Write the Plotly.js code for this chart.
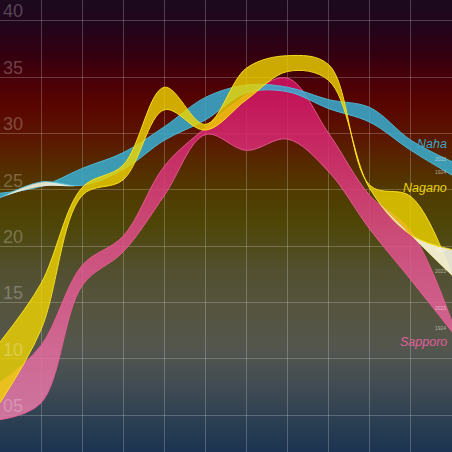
<!DOCTYPE html>
<html>
<head>
<meta charset="utf-8">
<script src="https://cdn.plot.ly/plotly-3.0.1.min.js"></script>
<style>
  html, body { margin: 0; padding: 0; }
  #chart {
    width: 452px; height: 452px;
    background: linear-gradient(to bottom,
      #1c0a1f 0%, #22041a 6%, #330010 12%, #470008 17%, #580400 23%,
      #5b1500 30%, #572600 35%, #513a00 42%, #4e4608 50%, #525030 60%,
      #56543e 68%, #54564e 77%, #424c53 85%, #2c3f52 93%, #1c3452 100%);
  }
</style>
</head>
<body>
<div id="chart"></div>
<script>
// Monthly highest temperatures (deg C)
const months = ['Jan','Feb','Mar','Apr','May','Jun','Jul','Aug','Sep','Oct','Nov','Dec'];
const yearA = '2023';
const yearB = '1924';

const naha2023    = [24.7, 25.3, 26.9, 28.3, 30.6, 33.2, 34.3, 34.1, 33.0, 32.3, 29.4, 27.5];
const naha1924    = [24.3, 25.7, 25.4, 26.8, 29.4, 31.2, 33.6, 33.7, 32.2, 31.0, 28.5, 26.3];
const nagano2023  = [11.5, 16.7, 25.2, 27.2, 34.1, 30.8, 35.8, 36.9, 36.1, 25.4, 24.4, 17.4];
const nagano1924  = [ 6.1, 12.6, 24.5, 25.9, 32.1, 30.3, 33.0, 35.5, 34.7, 25.1, 21.0, 19.7];
const sapporo2023 = [ 7.9, 11.2, 18.3, 20.9, 27.1, 30.5, 33.4, 34.9, 30.0, 24.5, 21.3, 13.3];
const sapporo1924 = [ 4.6,  6.1, 16.5, 19.5, 24.5, 29.9, 28.5, 29.5, 26.6, 21.5, 17.0, 12.4];

const tickValues = [5, 10, 15, 20, 25, 30, 35, 40];
const tickLabels = ['05', '10', '15', '20', '25', '30', '35', '40'];

const cities = [
  { name: 'Sapporo', a: sapporo2023, b: sapporo1924, fill: 'rgba(222,40,120,0.82)', edge: 'rgba(235,90,150,0.9)',
    gradient: { type: 'vertical', start: 5, stop: 35,
      colorscale: [[0, 'rgba(232,125,170,0.85)'], [0.5, 'rgba(225,80,140,0.85)'], [1, 'rgba(212,18,100,0.85)']] },
    label: 11.5, labelColor: '#e0609c', shiftA: 14, shiftB: 4 },
  { name: 'Naha', a: naha2023, b: naha1924, fill: 'rgba(55,175,210,0.85)', edge: 'rgba(80,190,220,0.9)',
    label: 29.1, labelColor: '#3ca6c4', shiftA: 3, shiftB: 3 },
  { name: 'Nagano', a: nagano2023, b: nagano1924, fill: 'rgba(240,212,0,0.8)', edge: 'rgba(250,225,30,0.95)',
    label: 25.15, labelColor: '#e8d000', shiftA: 4, shiftB: 0 }
];
const invertedFill = 'rgba(240,238,218,0.92)';
const smallFont = { family: 'Liberation Sans, Arial', size: 5, color: 'rgba(255,255,255,0.55)' };

const traces = [];
const annotations = [];
cities.forEach(c => {
  const low = c.a.map((v, i) => Math.min(v, c.b[i]));
  const common = { x: months, mode: 'lines', hoverinfo: 'skip', showlegend: false };
  traces.push(Object.assign({}, common, { y: low, line: { width: 0, shape: 'spline' } }));
  const main = Object.assign({}, common, { y: c.a, fill: 'tonexty', fillcolor: c.fill,
    line: { width: 1, color: c.edge, shape: 'spline' } });
  if (c.gradient) main.fillgradient = c.gradient;
  traces.push(main);
  traces.push(Object.assign({}, common, { y: low, line: { width: 0, shape: 'spline' } }));
  traces.push(Object.assign({}, common, { y: c.b, fill: 'tonexty', fillcolor: invertedFill,
    line: { width: 1, color: c.edge, shape: 'spline' } }));

  annotations.push({ xref: 'paper', x: 0.993, xanchor: 'right', yref: 'y', y: c.label, yanchor: 'middle',
    text: c.name, showarrow: false,
    font: { family: 'Liberation Sans, Arial', size: 12.5, style: 'italic', color: c.labelColor } });
  const last = months.length - 1;
  annotations.push({ x: months[last], y: c.a[last], xanchor: 'right', yanchor: 'middle', xshift: -4, yshift: c.shiftA,
    text: yearA, showarrow: false, font: smallFont });
  annotations.push({ x: months[last], y: c.b[last], xanchor: 'right', yanchor: 'middle', xshift: -4, yshift: c.shiftB,
    text: yearB, showarrow: false, font: smallFont });
});

const layout = {
  width: 452, height: 452,
  margin: { l: 0, r: 0, t: 0, b: 0, pad: 0 },
  paper_bgcolor: 'rgba(0,0,0,0)',
  plot_bgcolor: 'rgba(0,0,0,0)',
  showlegend: false,
  xaxis: { type: 'category', range: [0, months.length - 1], showgrid: true,
    gridcolor: 'rgba(255,255,255,0.22)', gridwidth: 1, showticklabels: false, zeroline: false, showline: false, fixedrange: true },
  yaxis: { range: [1.74, 41.84], tickvals: tickValues, ticktext: tickLabels, showgrid: true,
    gridcolor: 'rgba(255,255,255,0.22)', gridwidth: 1, zeroline: false, showline: false,
    ticklabelposition: 'inside top', ticklabeloverflow: 'allow', ticklabelshift: 3, ticks: '',
    tickfont: { family: 'Liberation Sans, Arial', size: 18, color: 'rgba(255,255,255,0.26)' }, fixedrange: true },
  annotations: annotations
};

Plotly.newPlot('chart', traces, layout, { staticPlot: true, displayModeBar: false });
</script>
</body>
</html>
